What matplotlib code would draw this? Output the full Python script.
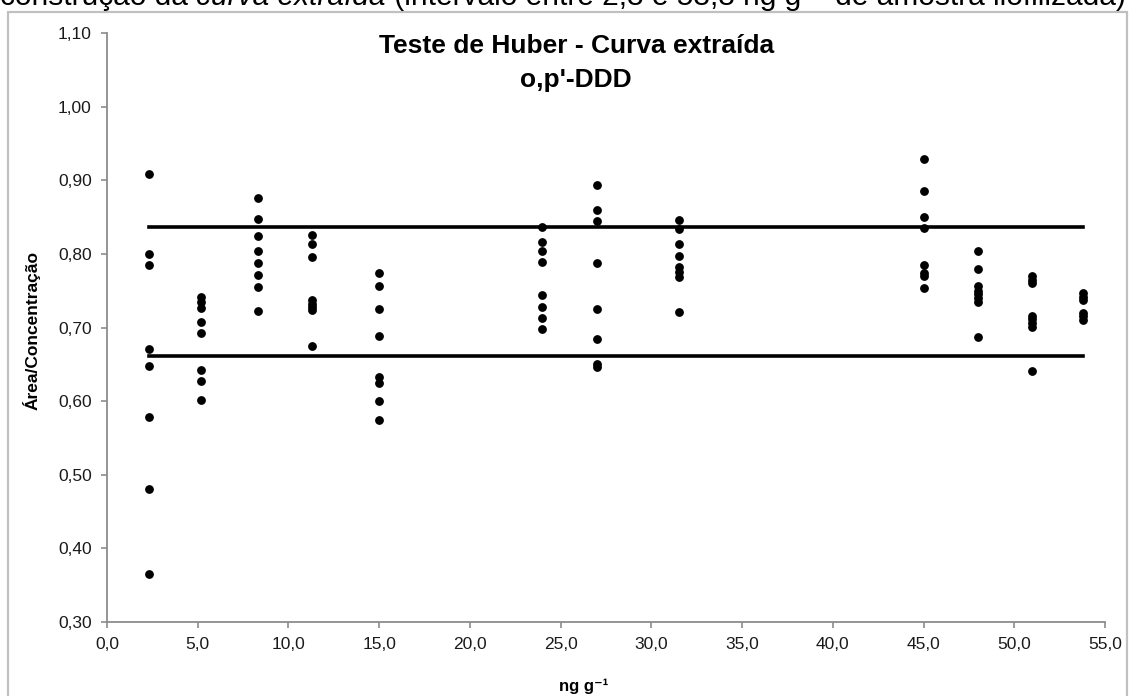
import matplotlib
matplotlib.use("Agg")
import matplotlib.pyplot as plt
from matplotlib.ticker import FuncFormatter, MultipleLocator
from matplotlib.patches import Rectangle

plt.rcParams['font.family'] = ['Liberation Sans', 'DejaVu Sans']

# concentração (ng g-1) de cada nível
niveis = [2.3, 5.2, 8.3, 11.3, 15.0, 24.0, 27.0, 31.5, 45.0, 48.0, 51.0, 53.8]

# razão área/concentração de cada replicata, por nível
razoes = [
    [0.909, 0.800, 0.785, 0.671, 0.648, 0.578, 0.480, 0.365],
    [0.741, 0.734, 0.727, 0.708, 0.693, 0.642, 0.627, 0.601],
    [0.876, 0.847, 0.824, 0.804, 0.787, 0.771, 0.755, 0.722],
    [0.826, 0.813, 0.796, 0.737, 0.732, 0.728, 0.724, 0.675],
    [0.774, 0.757, 0.725, 0.689, 0.633, 0.624, 0.600, 0.574],
    [0.836, 0.816, 0.804, 0.789, 0.744, 0.728, 0.713, 0.698],
    [0.893, 0.859, 0.844, 0.787, 0.725, 0.685, 0.650, 0.647],
    [0.846, 0.834, 0.814, 0.797, 0.782, 0.775, 0.768, 0.721],
    [0.929, 0.886, 0.850, 0.835, 0.785, 0.774, 0.770, 0.753],
    [0.804, 0.780, 0.756, 0.750, 0.745, 0.740, 0.735, 0.687],
    [0.770, 0.765, 0.760, 0.716, 0.711, 0.706, 0.701, 0.641],
    [0.747, 0.742, 0.738, 0.720, 0.715, 0.710],
]

# limites do teste de Huber
lim_sup = 0.836
lim_inf = 0.661

fig = plt.figure(figsize=(11.3, 6.96), dpi=100)
ax = fig.add_axes([107/1130, 1-622/696, (1105-107)/1130, (622-33)/696])

xs = []
ys = []
for x, vals in zip(niveis, razoes):
    xs += [x]*len(vals)
    ys += vals
ax.plot(xs, ys, 'o', color='black', markersize=5.3, linestyle='none')

ax.plot([niveis[0], niveis[-1]], [lim_sup, lim_sup], color='black', lw=2.6)
ax.plot([niveis[0], niveis[-1]], [lim_inf, lim_inf], color='black', lw=2.6)

ax.set_xlim(0, 55)
ax.set_ylim(0.30, 1.10)
ax.xaxis.set_major_locator(MultipleLocator(5))
ax.yaxis.set_major_locator(MultipleLocator(0.1))
ax.xaxis.set_major_formatter(FuncFormatter(lambda v, p: f"{v:.1f}".replace('.', ',')))
ax.yaxis.set_major_formatter(FuncFormatter(lambda v, p: f"{v:.2f}".replace('.', ',')))

for s in ['top', 'right']:
    ax.spines[s].set_visible(False)
for s in ['left', 'bottom']:
    ax.spines[s].set_color('#8c8c8c')
    ax.spines[s].set_linewidth(1.3)
ax.tick_params(direction='out', length=4, width=1.2, color='#8c8c8c',
               labelsize=12.5, labelcolor='#1a1a1a', pad=7)

fig.text(0.51, 1-53/696, "Teste de Huber - Curva extraída", ha='center',
         va='baseline', fontsize=19, fontweight='bold')
fig.text(0.51, 1-87/696, "o,p'-DDD", ha='center', va='baseline',
         fontsize=19, fontweight='bold')

fig.text(32/1130, 1-330/696, "Área/Concentração", rotation=90, ha='center',
         va='center', fontsize=12.5, fontweight='bold')
fig.text(584/1130, 1-686/696, "ng g⁻¹", ha='center', va='center',
         fontsize=12, fontweight='bold')

# moldura do gráfico
fig.patches.append(Rectangle((8/1130, -0.05), 1119/1130, 1.05 - 12/696,
                             transform=fig.transFigure, fill=False,
                             edgecolor='#c0c0c0', lw=1.6))

# legenda cortada no topo
fig.canvas.draw()
r = fig.canvas.get_renderer()
partes = [("construção da ", 'normal'), ("curva extraída", 'italic'),
          (" (intervalo entre 2,3 e 53,8 ng g⁻¹ de amostra liofilizada)", 'normal')]
x0 = 0
for txt, estilo in partes:
    t = fig.text(x0, 1-5/696, txt, ha='left', va='baseline', fontsize=21.5,
                 style=estilo)
    bb = t.get_window_extent(renderer=r)
    x0 = bb.x1 / fig.bbox.width

fig.savefig('out.png', dpi=100)
